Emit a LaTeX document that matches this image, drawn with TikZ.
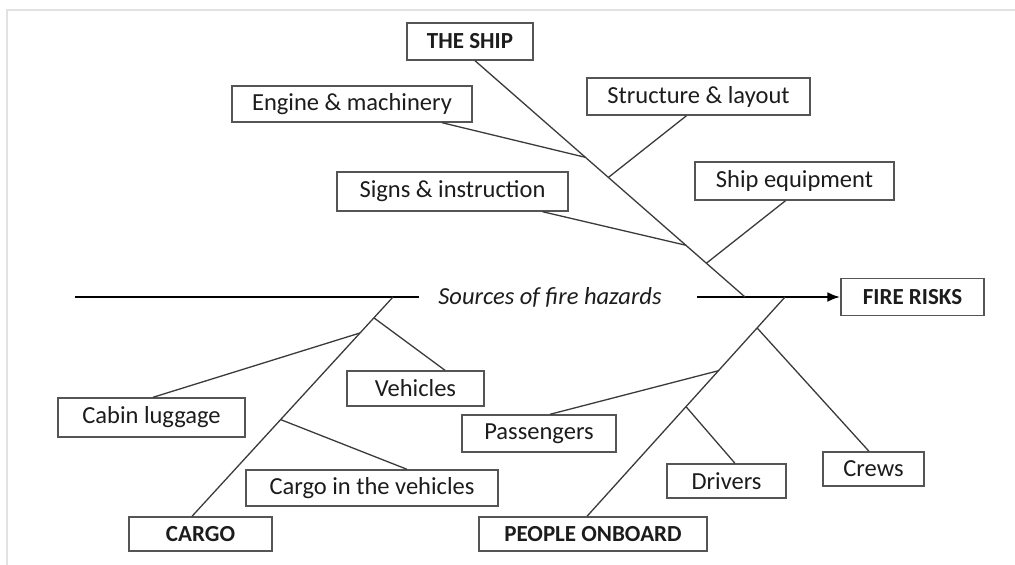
\documentclass[tikz,border=0pt]{standalone}
\usepackage{fontspec}
\setmainfont{Carlito}
\usetikzlibrary{calc,arrows.meta}
\definecolor{framegray}{HTML}{E2E2E2}
\definecolor{boxline}{HTML}{555555}
\definecolor{bone}{HTML}{3A3A3A}
\definecolor{ink}{HTML}{1C1C1C}
\begin{document}
\begin{tikzpicture}[x=1pt,y=-1pt,
  cause/.style={draw=boxline,line width=1.4pt,fill=white,text=ink,
    inner sep=0pt,font=\fontsize{24.5pt}{28pt}\selectfont},
  head/.style={cause,font=\fontsize{23pt}{27pt}\selectfont\bfseries},
  bonel/.style={draw=bone,line width=1.3pt},
  spine/.style={draw=black,line width=2.7pt}]
\useasboundingbox (0,0) rectangle (1015,565);
% light frame along the top and left edges
\draw[framegray,line width=1.6pt] (7,565) -- (7,10) -- (1015,10);

% category and effect boxes
\node[head,minimum width=126,minimum height=37] (ship) at (470,41.5) {THE SHIP};
\node[head,minimum width=143,minimum height=37] (fire) at (912.5,297) {FIRE RISKS};
\node[head,minimum width=143,minimum height=34] (cargo) at (200.5,534) {CARGO};
\node[head,minimum width=228,minimum height=34] (people) at (593,534) {PEOPLE ONBOARD};

% cause boxes
\node[cause,minimum width=240,minimum height=36] (engine) at (352,104) {Engine \& machinery};
\node[cause,minimum width=231,minimum height=39] (signs) at (452.5,191.5) {Signs \& instruction};
\node[cause,minimum width=223,minimum height=37] (structure) at (698.5,96.5) {Structure \& layout};
\node[cause,minimum width=199,minimum height=38] (equip) at (794.5,181) {Ship equipment};
\node[cause,minimum width=187,minimum height=39] (cabin) at (151.5,417.5) {Cabin luggage};
\node[cause,minimum width=137,minimum height=35] (vehicles) at (415.5,388.5) {Vehicles};
\node[cause,minimum width=252,minimum height=36] (cargoveh) at (372,488) {Cargo in the vehicles};
\node[cause,minimum width=154,minimum height=37] (passengers) at (539,433.5) {Passengers};
\node[cause,minimum width=119,minimum height=34] (drivers) at (726.5,481) {Drivers};
\node[cause,minimum width=101,minimum height=34] (crews) at (873.5,469) {Crews};

% main spine with its caption
\coordinate (tail) at (75,297);
\coordinate (gapL) at (419,297);
\coordinate (gapR) at (697,297);
\node[font=\fontsize{24.5pt}{28pt}\selectfont\itshape,text=ink,inner sep=0pt] (hazards) at (550,297) {Sources of fire hazards};
\draw[spine] (tail) -- (gapL);
\draw[spine,-{Latex[length=13pt,width=10pt]}] (gapR) -- (fire.west);

% ship bone
\coordinate (shiptop) at ([xshift=5pt]ship.south);
\coordinate (shipend) at (745,297);
\draw[bonel] (shiptop) -- (shipend);
\coordinate (j1) at ($(shiptop)!0.409!(shipend)$);
\coordinate (j2) at ($(shiptop)!0.494!(shipend)$);
\coordinate (j3) at ($(shiptop)!0.781!(shipend)$);
\coordinate (j4) at ($(shiptop)!0.857!(shipend)$);
\draw[bonel] ([xshift=90pt]engine.south) -- (j1);
\draw[bonel] ([xshift=-12pt]structure.south) -- (j2);
\draw[bonel] ([xshift=90pt]signs.south) -- (j3);
\draw[bonel] ([xshift=-9pt]equip.south) -- (j4);

% cargo bone
\coordinate (cargotop) at (393,297);
\coordinate (cargoend) at ([xshift=-8.5pt]cargo.north);
\draw[bonel] (cargotop) -- (cargoend);
\coordinate (k1) at ($(cargotop)!0.095!(cargoend)$);
\coordinate (k2) at ($(cargotop)!0.164!(cargoend)$);
\coordinate (k3) at ($(cargotop)!0.559!(cargoend)$);
\draw[bonel] ([xshift=29.5pt]vehicles.north) -- (k1);
\draw[bonel] ([xshift=1.5pt]cabin.north) -- (k2);
\draw[bonel] ([xshift=35pt]cargoveh.north) -- (k3);

% people bone
\coordinate (peopletop) at (785,297);
\coordinate (peopleend) at ([xshift=-6pt]people.north);
\draw[bonel] (peopletop) -- (peopleend);
\coordinate (p1) at ($(peopletop)!0.141!(peopleend)$);
\coordinate (p2) at ($(peopletop)!0.336!(peopleend)$);
\coordinate (p3) at ($(peopletop)!0.5!(peopleend)$);
\draw[bonel] ([xshift=-4.5pt]crews.north) -- (p1);
\draw[bonel] ([xshift=11pt]passengers.north) -- (p2);
\draw[bonel] ([xshift=8.5pt]drivers.north) -- (p3);
\end{tikzpicture}
\end{document}
